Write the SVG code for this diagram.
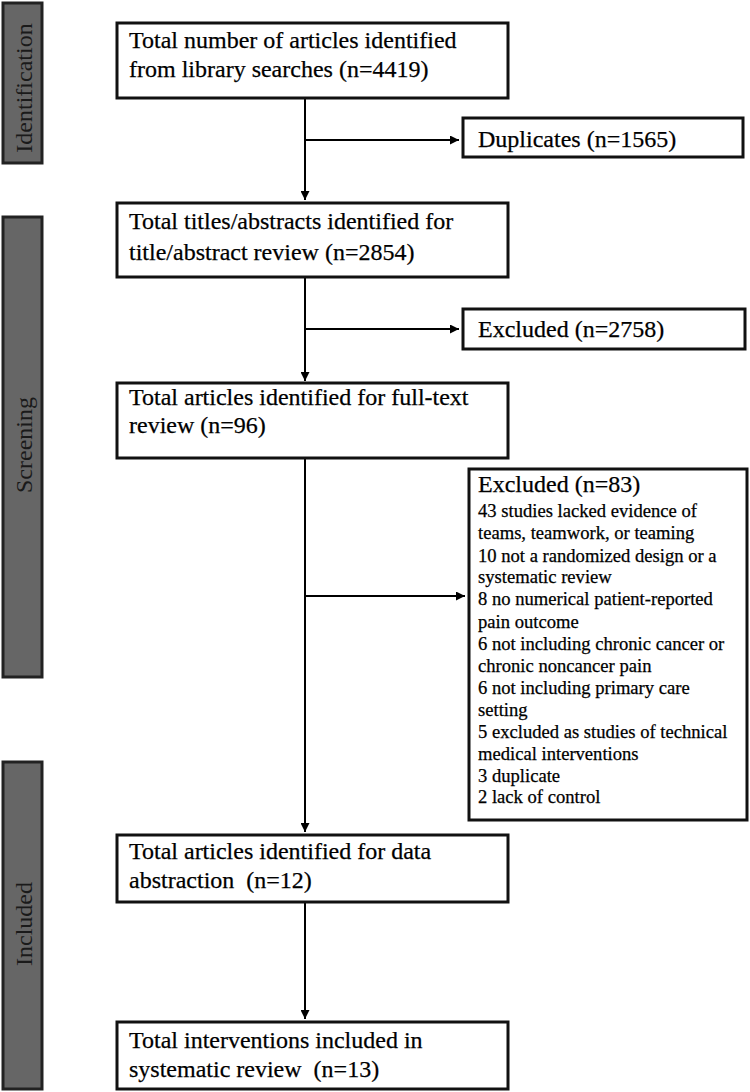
<svg xmlns="http://www.w3.org/2000/svg" width="750" height="1092" viewBox="0 0 750 1092">
<defs>
<style>
.bar{fill:#666;stroke:#222;stroke-width:3}
.box{fill:#fff;stroke:#111;stroke-width:3}
.lbl{font-family:"Liberation Serif","Times New Roman",serif;font-size:24px;fill:#1a1a1a;text-anchor:middle}
.t{font-family:"Liberation Serif","Times New Roman",serif;font-size:24px;fill:#000;stroke:#000;stroke-width:0.25}
.s{font-family:"Liberation Serif","Times New Roman",serif;font-size:18.6px;fill:#000;stroke:#000;stroke-width:0.25}
.ln{stroke:#000;stroke-width:2;fill:none}
</style>
<marker id="ah" viewBox="0 0 10 10" refX="10" refY="5" markerWidth="4.5" markerHeight="4.5" orient="auto" markerUnits="strokeWidth">
<path d="M0,0 L10,5 L0,10 z" fill="#000"/>
</marker>
</defs>
<rect width="750" height="1092" fill="#fff"/>
<g id="phase-identification">
<rect class="bar" x="3" y="3" width="39" height="160"/>
<text class="lbl" transform="translate(32,88) rotate(-90)">Identification</text>
</g>
<g id="phase-screening">
<rect class="bar" x="3" y="217" width="39" height="460"/>
<text class="lbl" transform="translate(32,445) rotate(-90)">Screening</text>
</g>
<g id="phase-included">
<rect class="bar" x="3" y="762" width="39" height="327"/>
<text class="lbl" transform="translate(32,924) rotate(-90)">Included</text>
</g>
<g id="connectors">
<line class="ln" x1="305" y1="98" x2="305" y2="200" marker-end="url(#ah)"/>
<line class="ln" x1="305" y1="140" x2="459" y2="140" marker-end="url(#ah)"/>
<line class="ln" x1="305" y1="277" x2="305" y2="381" marker-end="url(#ah)"/>
<line class="ln" x1="305" y1="329" x2="459" y2="329" marker-end="url(#ah)"/>
<line class="ln" x1="305" y1="458" x2="305" y2="832" marker-end="url(#ah)"/>
<line class="ln" x1="305" y1="596" x2="465" y2="596" marker-end="url(#ah)"/>
<line class="ln" x1="305" y1="902" x2="305" y2="1019" marker-end="url(#ah)"/>
</g>
<g id="node-identified">
<rect class="box" x="117" y="23" width="391" height="75"/>
<text class="t" x="129" y="48">Total number of articles identified</text>
<text class="t" x="129" y="77">from library searches (n=4419)</text>
</g>
<g id="node-duplicates">
<rect class="box" x="463" y="118" width="280" height="39"/>
<text class="t" x="478" y="147">Duplicates (n=1565)</text>
</g>
<g id="node-titles">
<rect class="box" x="117" y="203" width="391" height="74"/>
<text class="t" x="129" y="229">Total titles/abstracts identified for</text>
<text class="t" x="129" y="260">title/abstract review (n=2854)</text>
</g>
<g id="node-excluded1">
<rect class="box" x="463" y="309" width="282" height="40"/>
<text class="t" x="478" y="337">Excluded (n=2758)</text>
</g>
<g id="node-fulltext">
<rect class="box" x="117" y="383" width="391" height="75"/>
<text class="t" x="129" y="405">Total articles identified for full-text</text>
<text class="t" x="129" y="433">review (n=96)</text>
</g>
<g id="node-excluded2">
<rect class="box" x="469" y="469" width="278" height="351"/>
<text class="t" x="478" y="492">Excluded (n=83)</text>
<text class="s" x="478" y="517">43 studies lacked evidence of</text>
<text class="s" x="478" y="539">teams, teamwork, or teaming</text>
<text class="s" x="478" y="562">10 not a randomized design or a</text>
<text class="s" x="478" y="583">systematic review</text>
<text class="s" x="478" y="605">8 no numerical patient-reported</text>
<text class="s" x="478" y="628">pain outcome</text>
<text class="s" x="478" y="650">6 not including chronic cancer or</text>
<text class="s" x="478" y="672">chronic noncancer pain</text>
<text class="s" x="478" y="694">6 not including primary care</text>
<text class="s" x="478" y="716">setting</text>
<text class="s" x="478" y="738">5 excluded as studies of technical</text>
<text class="s" x="478" y="760">medical interventions</text>
<text class="s" x="478" y="782">3 duplicate</text>
<text class="s" x="478" y="803">2 lack of control</text>
</g>
<g id="node-abstraction">
<rect class="box" x="117" y="835" width="391" height="67"/>
<text class="t" x="129" y="859">Total articles identified for data</text>
<text class="t" x="129" y="888" xml:space="preserve">abstraction  (n=12)</text>
</g>
<g id="node-interventions">
<rect class="box" x="117" y="1022" width="391" height="67"/>
<text class="t" x="129" y="1048">Total interventions included in</text>
<text class="t" x="129" y="1077" xml:space="preserve">systematic review  (n=13)</text>
</g>
</svg>
